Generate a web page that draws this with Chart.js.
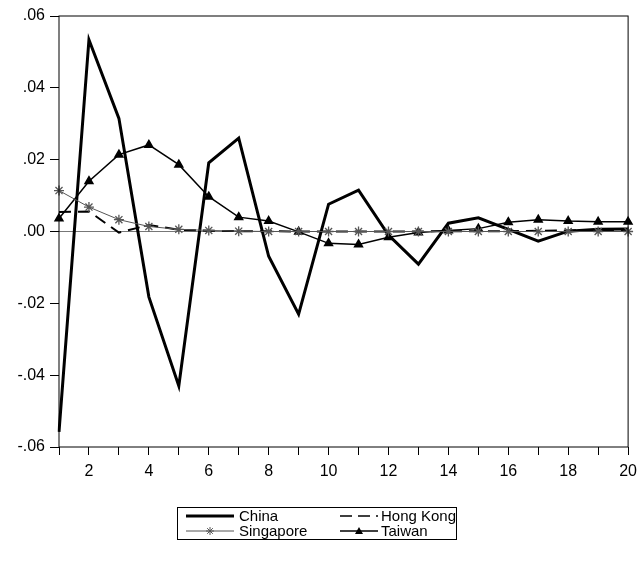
<!DOCTYPE html>
<html>
<head>
<meta charset="utf-8">
<script src="https://cdn.jsdelivr.net/npm/chart.js@4"></script>
<style>
  html, body { margin: 0; padding: 0; background: #fff; }
  #wrap { width: 644px; height: 563px; }
</style>
</head>
<body>
<div id="wrap"><canvas id="chart" width="644" height="563"></canvas></div>
<script>
const periods = [1,2,3,4,5,6,7,8,9,10,11,12,13,14,15,16,17,18,19,20];
const china = [-0.0558, 0.0534, 0.0315, -0.0182, -0.0430, 0.0191, 0.0260, -0.0069, -0.0230, 0.0076,
               0.0115, -0.0010, -0.0091, 0.0023, 0.0038, 0.0006, -0.0027, 0.0001, 0.0006, 0.0007];
const hongKong = [0.0054, 0.0056, -0.0003, 0.0018, 0.0005, 0.0002, 0.0001, 0.0001, 0.0000, 0.0000,
                  0.0000, 0.0000, 0.0000, 0.0001, 0.0001, 0.0001, 0.0002, 0.0003, 0.0004, 0.0004];
const singapore = [0.0114, 0.0068, 0.0033, 0.0014, 0.0006, 0.0003, 0.0001, 0.0000, 0.0000, 0.0000,
                   0.0000, 0.0000, 0.0000, 0.0000, 0.0000, 0.0000, 0.0000, 0.0000, 0.0000, 0.0000];
const taiwan = [0.0036, 0.0140, 0.0214, 0.0241, 0.0186, 0.0097, 0.0040, 0.0029, -0.0001, -0.0033,
                -0.0036, -0.0016, -0.0003, 0.0003, 0.0008, 0.0026, 0.0033, 0.0029, 0.0027, 0.0027];

const FONT = '"Liberation Sans", Arial, sans-serif';

// frame round the plot and the boxed legend underneath
const extras = {
  id: 'extras',
  afterDraw(chart) {
    const c = chart.ctx, a = chart.chartArea;
    c.save();
    c.strokeStyle = '#000';
    c.lineWidth = 1;
    c.strokeRect(a.left, a.top, a.right - a.left, a.bottom - a.top);

    // legend
    c.strokeRect(177.5, 507.5, 279, 32);
    c.font = '15px ' + FONT;
    c.fillStyle = '#000';
    c.textBaseline = 'middle';
    const rows = [516, 531];
    // China
    c.lineWidth = 3; c.setLineDash([]);
    c.beginPath(); c.moveTo(186, rows[0]); c.lineTo(234, rows[0]); c.stroke();
    c.fillText('China', 239, rows[0] + 1);
    // Hong Kong
    c.lineWidth = 1.5; c.setLineDash([12, 6]);
    c.beginPath(); c.moveTo(340, rows[0]); c.lineTo(378, rows[0]); c.stroke();
    c.setLineDash([]);
    c.fillText('Hong Kong', 381, rows[0] + 1);
    // Singapore
    c.strokeStyle = '#555'; c.lineWidth = 1;
    c.beginPath(); c.moveTo(186, rows[1]); c.lineTo(234, rows[1]); c.stroke();
    const sx = 210, sy = rows[1], r = 4;
    c.beginPath();
    for (let k = 0; k < 4; k++) {
      const ang = k * Math.PI / 4;
      c.moveTo(sx - r * Math.cos(ang), sy - r * Math.sin(ang));
      c.lineTo(sx + r * Math.cos(ang), sy + r * Math.sin(ang));
    }
    c.stroke();
    c.fillText('Singapore', 239, rows[1] + 1);
    // Taiwan
    c.strokeStyle = '#000'; c.lineWidth = 1.5;
    c.beginPath(); c.moveTo(340, rows[1]); c.lineTo(378, rows[1]); c.stroke();
    c.beginPath();
    c.moveTo(359, rows[1] - 4); c.lineTo(363, rows[1] + 3); c.lineTo(355, rows[1] + 3); c.closePath();
    c.fill();
    c.fillText('Taiwan', 381, rows[1] + 1);
    c.restore();
  }
};

new Chart(document.getElementById('chart'), {
  type: 'line',
  data: {
    labels: periods,
    datasets: [
      { label: 'Singapore', data: singapore, borderColor: '#555', borderWidth: 1,
        pointStyle: 'star', pointRadius: 5, pointBorderColor: '#555', pointBorderWidth: 1.3,
        pointBackgroundColor: '#555', tension: 0 },
      { label: 'Hong Kong', data: hongKong, borderColor: '#000', borderWidth: 2,
        borderDash: [12, 7], pointRadius: 0, tension: 0 },
      { label: 'Taiwan', data: taiwan, borderColor: '#000', borderWidth: 1.5,
        pointStyle: 'triangle', pointRadius: 4.5, pointBackgroundColor: '#000',
        pointBorderColor: '#000', tension: 0 },
      { label: 'China', data: china, borderColor: '#000', borderWidth: 3,
        pointRadius: 0, tension: 0 }
    ]
  },
  options: {
    responsive: false,
    animation: false,
    layout: { padding: { top: 16, right: 12, bottom: 76, left: 0 } },
    plugins: { legend: { display: false }, tooltip: { enabled: false } },
    scales: {
      x: {
        offset: false,
        afterFit(s) { s.height = 40; },
        border: { display: false },
        grid: { drawOnChartArea: false, tickLength: 8, tickColor: '#000', tickWidth: 1 },
        ticks: {
          autoSkip: false, maxRotation: 0, padding: 7, color: '#000',
          font: { family: FONT, size: 16 },
          callback: (v, i) => (periods[i] % 2 === 0 ? String(periods[i]) : '')
        }
      },
      y: {
        min: -0.06, max: 0.06,
        afterFit(s) { s.width = 59; },
        border: { display: false },
        grid: {
          tickLength: 9, tickColor: '#000', lineWidth: 1,
          color: (ctx) => (ctx.tick && Math.abs(ctx.tick.value) < 1e-9 ? '#777' : 'rgba(0,0,0,0)')
        },
        ticks: {
          stepSize: 0.02, padding: 5, color: '#000',
          font: { family: FONT, size: 16 },
          callback: (v) => v.toFixed(2).replace('0.', '.')
        }
      }
    }
  },
  plugins: [extras]
});
</script>
</body>
</html>
